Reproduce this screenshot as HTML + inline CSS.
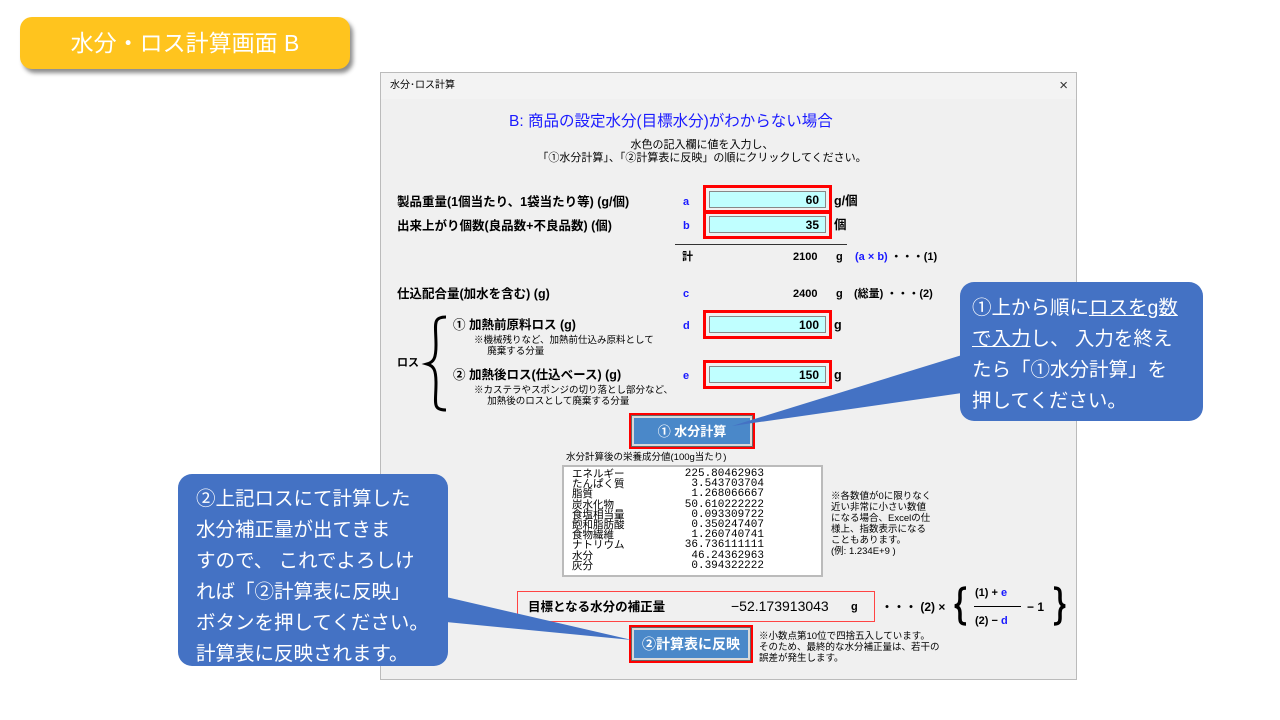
<!DOCTYPE html>
<html><head><meta charset="utf-8">
<style>
*{margin:0;padding:0;box-sizing:border-box}
body{width:1280px;height:720px;background:#fff;position:relative;overflow:hidden;font-family:"Liberation Sans","Noto Sans CJK JP",sans-serif;color:#000}
.a{position:absolute;white-space:nowrap;line-height:16px}
.badge{left:20px;top:17px;width:330px;height:52px;background:#FFC41E;border-radius:12px;box-shadow:3px 4px 4px rgba(0,0,0,.45);color:#fff;font-size:23px;line-height:52px;text-align:center}
.dlg{left:380px;top:72px;width:697px;height:608px;background:#F0F0F0;border:1px solid #bbb}
.tb{left:0;top:0;width:100%;height:26px;background:#F3F3F3;font-size:10px;line-height:26px;padding-left:9px}
.lbl{font-size:12.5px;font-weight:bold}
.blue{color:#1a1aff;font-weight:bold;font-size:11px}
.inb{position:absolute;border:3px solid #f00;width:129px;height:29px}
.inb div{position:absolute;left:3px;top:3px;right:3px;bottom:3px;background:#C0FFFF;border:1px solid #888;font-size:12px;font-weight:bold;text-align:right;padding-right:6px;line-height:17px}
.sm{font-size:9.5px;line-height:11px}
.btn{position:absolute;border:3px solid #f00}
.btn div{background:#4A88C9;border:2px solid #d9d9d9;outline:1px solid #666;color:#fff;font-weight:bold;font-size:13px;text-align:center}
.list{left:181px;top:392px;width:261px;height:112px;background:#fff;border:2px solid #bbb}
.co{color:#fff;font-size:19.5px;line-height:31px}
</style></head><body>
<div class="a badge">水分・ロス計算画面 B</div>

<div class="a dlg">
 <div class="a tb">水分･ロス計算</div>
 <div class="a" style="right:8px;top:5px;font-size:15px;color:#333">×</div>
 <div class="a" style="left:128px;top:40px;font-size:15.5px;line-height:18px;color:#1a1aff">B: 商品の設定水分(目標水分)がわからない場合</div>
 <div class="a" style="left:146px;top:66px;width:350px;text-align:center;font-size:11px;line-height:13px">水色の記入欄に値を入力し、<br>「①水分計算」、「②計算表に反映」の順にクリックしてください。</div>

 <div class="a lbl" style="left:16px;top:121px">製品重量(1個当たり、1袋当たり等) (g/個)</div>
 <div class="a lbl" style="left:16px;top:145px">出来上がり個数(良品数+不良品数) (個)</div>
 <div class="a blue" style="left:302px;top:121px">a</div>
 <div class="a blue" style="left:302px;top:145px">b</div>
 <div class="inb" style="left:322px;top:112px"><div>60</div></div>
 <div class="inb" style="left:322px;top:137px"><div>35</div></div>
 <div class="a lbl" style="left:453px;top:120px">g/個</div>
 <div class="a lbl" style="left:453px;top:144px">個</div>
 <div class="a" style="left:294px;top:171px;width:172px;border-top:1px solid #333"></div>
 <div class="a lbl" style="left:301px;top:176px;font-size:11px">計</div>
 <div class="a lbl" style="left:412px;top:176px;font-size:11px">2100</div>
 <div class="a lbl" style="left:455px;top:176px;font-size:11px">g</div>
 <div class="a blue" style="left:474px;top:176px">(a × b) <span style="color:#000">・・・(1)</span></div>

 <div class="a lbl" style="left:16px;top:213px">仕込配合量(加水を含む) (g)</div>
 <div class="a blue" style="left:302px;top:213px">c</div>
 <div class="a lbl" style="left:412px;top:213px;font-size:11px">2400</div>
 <div class="a lbl" style="left:455px;top:213px;font-size:11px">g</div>
 <div class="a lbl" style="left:473px;top:213px;font-size:11px">(総量) ・・・(2)</div>

 <div class="a lbl" style="left:16px;top:282px;font-size:11px">ロス</div>
 <div class="a lbl" style="left:72px;top:244px">① 加熱前原料ロス (g)</div>
 <div class="a sm" style="left:93px;top:262px">※機械残りなど、加熱前仕込み原料として<br>&nbsp;&nbsp;&nbsp;&nbsp;&nbsp;廃棄する分量</div>
 <div class="a lbl" style="left:72px;top:294px">② 加熱後ロス(仕込ベース) (g)</div>
 <div class="a sm" style="left:93px;top:312px">※カステラやスポンジの切り落とし部分など、<br>&nbsp;&nbsp;&nbsp;&nbsp;&nbsp;加熱後のロスとして廃棄する分量</div>
 <div class="a blue" style="left:302px;top:245px">d</div>
 <div class="a blue" style="left:302px;top:295px">e</div>
 <div class="inb" style="left:322px;top:237px"><div>100</div></div>
 <div class="inb" style="left:322px;top:287px"><div>150</div></div>
 <div class="a lbl" style="left:453px;top:244px">g</div>
 <div class="a lbl" style="left:453px;top:294px">g</div>

 <div class="btn" style="left:248px;top:340px;width:126px;height:36px"><div style="height:30px;line-height:27px">① 水分計算</div></div>
 <div class="a sm" style="left:185px;top:379px">水分計算後の栄養成分値(100g当たり)</div>
 <div class="a list">
  <div class="a" style="left:8px;top:2px;font-size:10.5px;line-height:10.2px">エネルギー<br>たんぱく質<br>脂質<br>炭水化物<br>食塩相当量<br>飽和脂肪酸<br>食物繊維<br>ナトリウム<br>水分<br>灰分</div>
  <div class="a" style="left:110px;top:2px;font-family:'Liberation Mono',monospace;font-size:11px;line-height:10.2px;text-align:right;width:90px">225.80462963<br>3.543703704<br>1.268066667<br>50.610222222<br>0.093309722<br>0.350247407<br>1.260740741<br>36.736111111<br>46.24362963<br>0.394322222</div>
 </div>
 <div class="a sm" style="left:450px;top:418px">※各数値が0に限りなく<br>近い非常に小さい数値<br>になる場合、Excelの仕<br>様上、指数表示になる<br>こともあります。<br>(例: 1.234E+9 )</div>

 <div class="a" style="left:136px;top:518px;width:358px;height:31px;border:1px solid #f44"></div>
 <div class="a lbl" style="left:147px;top:526px">目標となる水分の補正量</div>
 <div class="a" style="left:350px;top:525px;font-size:14px">−52.173913043</div>
 <div class="a lbl" style="left:470px;top:526px;font-size:11px">g</div>
 <div class="a lbl" style="left:500px;top:526px;font-size:12px">・・・ (2) ×</div>
 <div class="a lbl" style="left:594px;top:512px;font-size:11px">(1) + <span class="blue">e</span></div>
 <div class="a" style="left:593px;top:533px;width:47px;border-top:1px solid #000"></div>
 <div class="a lbl" style="left:594px;top:540px;font-size:11px">(2) − <span class="blue">d</span></div>
 <div class="a lbl" style="left:646px;top:526px;font-size:12px">− 1</div>

 <div class="btn" style="left:248px;top:552px;width:124px;height:38px"><div style="height:32px;line-height:29px;font-size:14px">②計算表に反映</div></div>
 <div class="a sm" style="left:378px;top:558px">※小数点第10位で四捨五入しています。<br>そのため、最終的な水分補正量は、若干の<br>誤差が発生します。</div>
</div>

<svg class="a" style="left:0;top:0" width="1280" height="720">
 <path d="M446,317 C432,317 436,325 436,345 C436,358 434,362 427,364 C434,366 436,370 436,383 C436,403 432,410 446,410" fill="none" stroke="#000" stroke-width="3"/>
 <path d="M966,588 C959,588 960,592 960,598 C960,603 959,605 955,606 C959,607 960,609 960,614 C960,620 959,624 966,624" fill="none" stroke="#000" stroke-width="3.5"/>
 <path d="M1054,588 C1061,588 1060,592 1060,598 C1060,603 1061,605 1065,606 C1061,607 1060,609 1060,614 C1060,620 1061,624 1054,624" fill="none" stroke="#000" stroke-width="3.5"/>
 <rect x="960" y="282" width="243" height="139" rx="14" fill="#4472C4"/>
 <polygon points="962,355 962,393 732,426" fill="#4472C4"/>
 <rect x="178" y="474" width="270" height="192" rx="14" fill="#4472C4"/>
 <polygon points="446,597 446,622 632,640" fill="#4472C4"/>
</svg>
<div class="a co" style="left:972px;top:293px;line-height:31px">①上から順に<u>ロスをg数</u><br><u>で入力</u>し、 入力を終え<br>たら「①水分計算」を<br>押してください。</div>
<div class="a co" style="left:196px;top:484px;line-height:31px">②上記ロスにて計算した<br>水分補正量が出てきま<br>すので、 これでよろしけ<br>れば「②計算表に反映」<br>ボタンを押してください。<br>計算表に反映されます。</div>
</body></html>
